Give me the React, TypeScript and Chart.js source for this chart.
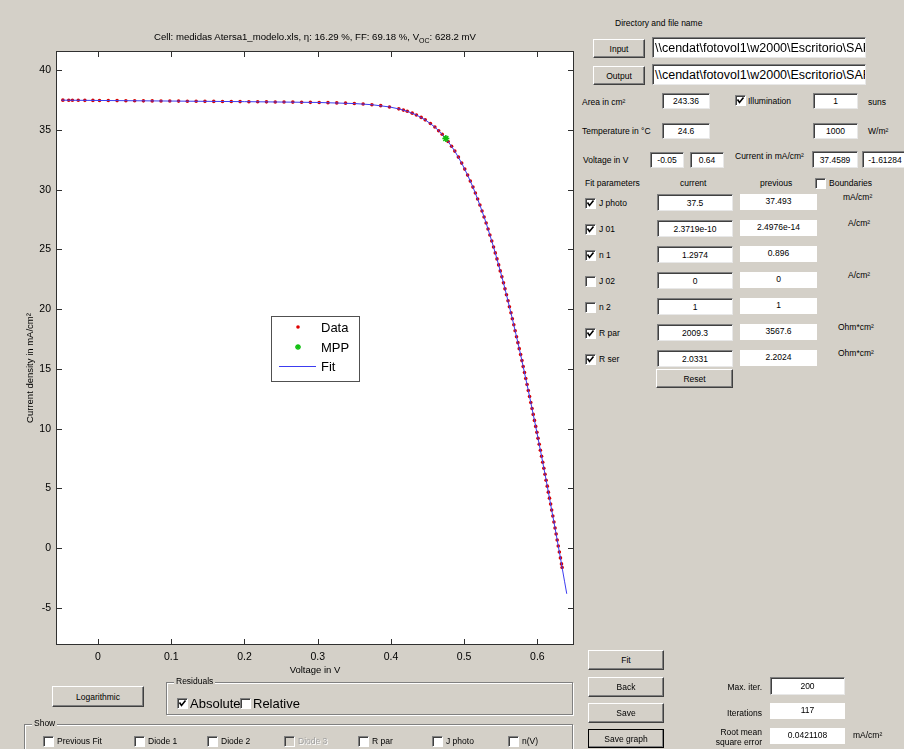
import React, { useEffect, useRef } from "react";
import { Chart, registerables } from "chart.js";
Chart.register(...registerables);

const F = "'Liberation Sans', Arial, sans-serif";
const BG = "#d4d0c8";

// ---- chart data ----
const dataV = [-0.048, -0.04, -0.035, -0.027, -0.018, -0.007, 0.002, 0.014, 0.026, 0.038, 0.05, 0.062, 0.074, 0.086, 0.098, 0.11, 0.122, 0.134, 0.146, 0.158, 0.17, 0.182, 0.194, 0.206, 0.218, 0.23, 0.242, 0.254, 0.266, 0.278, 0.29, 0.302, 0.314, 0.326, 0.338, 0.35, 0.362, 0.374, 0.386, 0.398,
  0.4107, 0.417, 0.4223, 0.4291, 0.4348, 0.4413, 0.4468, 0.4539, 0.46, 0.4652, 0.47, 0.4742, 0.4781, 0.4828, 0.4872, 0.4921, 0.4966, 0.5008, 0.5047, 0.5084, 0.512, 0.5153, 0.5184, 0.5215, 0.5244, 0.5272, 0.53, 0.5326, 0.5351, 0.5377, 0.5401, 0.5425, 0.5448, 0.5471, 0.5493, 0.5515, 0.5537, 0.5557, 0.5578, 0.5599, 0.5618, 0.5639, 0.5658, 0.5678, 0.5696, 0.5715, 0.5734, 0.5752, 0.5771, 0.5789, 0.5806, 0.5824, 0.5841, 0.5859, 0.5876, 0.5893, 0.591, 0.5927, 0.5943, 0.596, 0.5977, 0.5993, 0.6009, 0.6025, 0.6041, 0.6057, 0.6073, 0.6088, 0.6104, 0.6119, 0.6135, 0.615, 0.6165, 0.6181, 0.6195, 0.6211, 0.6226, 0.6241, 0.6256, 0.627, 0.6285, 0.63, 0.6315, 0.6329, 0.6338];
const dataJ = [37.486, 37.482, 37.479, 37.475, 37.471, 37.465, 37.461, 37.455, 37.449, 37.443, 37.437, 37.431, 37.425, 37.419, 37.413, 37.407, 37.401, 37.395, 37.389, 37.383, 37.377, 37.371, 37.365, 37.358, 37.352, 37.345, 37.338, 37.331, 37.323, 37.314, 37.304, 37.292, 37.277, 37.259, 37.235, 37.204, 37.162, 37.106, 37.028, 36.919,
  36.758, 36.655, 36.553, 36.399, 36.247, 36.044, 35.841, 35.538, 35.235, 34.933, 34.631, 34.329, 34.027, 33.626, 33.224, 32.722, 32.22, 31.718, 31.217, 30.716, 30.214, 29.713, 29.212, 28.711, 28.21, 27.709, 27.209, 26.708, 26.207, 25.706, 25.206, 24.705, 24.204, 23.704, 23.203, 22.702, 22.202, 21.701, 21.201, 20.7, 20.2, 19.699, 19.199, 18.698, 18.198, 17.697, 17.197, 16.697, 16.196, 15.696, 15.195, 14.695, 14.195, 13.694, 13.194, 12.694, 12.193, 11.693, 11.193, 10.692, 10.192, 9.692, 9.191, 8.691, 8.191, 7.691, 7.19, 6.69, 6.19, 5.69, 5.189, 4.689, 4.189, 3.689, 3.188, 2.688, 2.188, 1.688, 1.187, 0.687, 0.187, -0.313, -0.814, -1.314, -1.613];

const fitV = [-0.05, 0.1, 0.2, 0.25, 0.3, 0.35, 0.374, 0.398, 0.4107, 0.4223, 0.4348, 0.4468, 0.46, 0.47, 0.4781, 0.4872, 0.4966, 0.5047, 0.512, 0.5184, 0.5244, 0.53, 0.5351, 0.5401, 0.5448, 0.5493, 0.5537, 0.5578, 0.5618, 0.5658, 0.5696, 0.5734, 0.5771, 0.5806, 0.5841, 0.5876, 0.591, 0.5943, 0.5977, 0.6009, 0.6041, 0.6073, 0.6104, 0.6135, 0.6165, 0.6195, 0.6226, 0.6256, 0.6285, 0.6315, 0.6343, 0.6372, 0.6401];
const fitJ = [37.487, 37.412, 37.362, 37.33, 37.294, 37.204, 37.106, 36.919, 36.758, 36.553, 36.247, 35.841, 35.235, 34.631, 34.027, 33.224, 32.22, 31.217, 30.214, 29.212, 28.21, 27.209, 26.207, 25.206, 24.204, 23.203, 22.202, 21.201, 20.2, 19.199, 18.198, 17.197, 16.196, 15.195, 14.195, 13.194, 12.193, 11.193, 10.192, 9.191, 8.191, 7.19, 6.19, 5.189, 4.189, 3.188, 2.188, 1.187, 0.187, -0.814, -1.814, -2.815, -3.815];

const mppV = [0.475];
const mppJ = [34.27];

const xTickValues = [0, 0.1, 0.2, 0.3, 0.4, 0.5, 0.6];
const yTickValues = [-5, 0, 5, 10, 15, 20, 25, 30, 35, 40];
const legendLabels = ["Data", "MPP", "Fit"];

const xMin = -0.0574, xMax = 0.65, yMin = -8.1, yMax = 41.6;

const pts = (xs: number[], ys: number[]) => xs.map((x, i) => ({ x, y: ys[i] }));

const bgPlugin = {
  id: "plotBg",
  beforeDraw(chart: any) {
    const { ctx, chartArea: a } = chart;
    ctx.save();
    ctx.fillStyle = "#fff";
    ctx.fillRect(a.left, a.top, a.right - a.left, a.bottom - a.top);
    ctx.restore();
  },
};

const axesPlugin = {
  id: "matlabAxes",
  afterDraw(chart: any) {
    const { ctx, chartArea: a, scales } = chart;
    const x = scales.x, y = scales.y;
    ctx.save();
    ctx.strokeStyle = "#303030";
    ctx.lineWidth = 1;
    ctx.strokeRect(Math.round(a.left) + 0.5, Math.round(a.top) + 0.5, Math.round(a.right - a.left) - 1, Math.round(a.bottom - a.top) - 1);
    const L = 6;
    ctx.beginPath();
    xTickValues.forEach((v) => {
      const p = Math.round(x.getPixelForValue(v)) + 0.5;
      ctx.moveTo(p, a.bottom); ctx.lineTo(p, a.bottom - L);
      ctx.moveTo(p, a.top); ctx.lineTo(p, a.top + L);
    });
    yTickValues.forEach((v) => {
      const p = Math.round(y.getPixelForValue(v)) + 0.5;
      ctx.moveTo(a.left, p); ctx.lineTo(a.left + L, p);
      ctx.moveTo(a.right, p); ctx.lineTo(a.right - L, p);
    });
    ctx.stroke();

    // axis titles
    ctx.fillStyle = "#000";
    ctx.font = `9.5px ${F}`;
    ctx.textAlign = "center";
    ctx.textBaseline = "middle";
    ctx.fillText("Voltage in V", (a.left + a.right) / 2, 670);
    ctx.save();
    ctx.translate(30, 368);
    ctx.rotate(-Math.PI / 2);
    ctx.fillText("Current density in mA/cm²", 0, 0);
    ctx.restore();

    // legend
    const bx = 271, by = 316, bw = 88, bh = 65;
    ctx.fillStyle = "#fff";
    ctx.fillRect(bx, by, bw, bh);
    ctx.strokeStyle = "#505050";
    ctx.strokeRect(bx + 0.5, by + 0.5, bw, bh);
    const rows = [327, 347, 366];
    ctx.fillStyle = "#e00000";
    ctx.beginPath(); ctx.arc(298, rows[0], 1.8, 0, Math.PI * 2); ctx.fill();
    ctx.strokeStyle = "#10c010"; ctx.lineWidth = 1.3;
    ctx.beginPath();
    for (let k = 0; k < 4; k++) {
      const ang = (k * Math.PI) / 4;
      ctx.moveTo(298 - 3 * Math.cos(ang), rows[1] - 3 * Math.sin(ang));
      ctx.lineTo(298 + 3 * Math.cos(ang), rows[1] + 3 * Math.sin(ang));
    }
    ctx.stroke();
    ctx.strokeStyle = "#3c3cf0"; ctx.lineWidth = 1;
    ctx.beginPath(); ctx.moveTo(279, rows[2] + 0.5); ctx.lineTo(316, rows[2] + 0.5); ctx.stroke();
    ctx.fillStyle = "#000";
    ctx.font = `13px ${F}`;
    ctx.textAlign = "left";
    legendLabels.forEach((t, i) => ctx.fillText(t, 321, rows[i] + 1));
    ctx.restore();
  },
};

// ---------- UI helpers ----------
type P = { l: number; t: number; w?: number; h?: number; fs?: number; children?: any; style?: any };

const Txt = ({ l, t, fs = 8.5, children, style }: P) => (
  <div style={{ position: "absolute", left: l, top: t, fontSize: fs, fontFamily: F, lineHeight: 1, whiteSpace: "nowrap", color: "#000", ...style }}>{children}</div>
);

const Btn = ({ l, t, w, h, children, style }: P) => (
  <div style={{ position: "absolute", left: l, top: t, width: w, height: h, boxSizing: "border-box", background: BG, borderStyle: "solid", borderWidth: 1, borderColor: "#fff #404040 #404040 #fff", boxShadow: "inset -1px -1px 0 #808080", fontSize: 8.5, fontFamily: F, display: "flex", alignItems: "center", justifyContent: "center", ...style }}>{children}</div>
);

const Edit = ({ l, t, w, h, children, fs = 8.5, style }: P) => (
  <div style={{ position: "absolute", left: l, top: t, width: w, height: h, boxSizing: "border-box", background: "#fff", borderStyle: "solid", borderWidth: 1, borderColor: "#808080 #e8e8e8 #e8e8e8 #808080", boxShadow: "inset 1px 1px 0 #404040", fontSize: fs, fontFamily: F, display: "flex", alignItems: "center", justifyContent: "center", whiteSpace: "nowrap", overflow: "hidden", ...style }}>{children}</div>
);

const Flat = ({ l, t, w, h, children, fs = 8.5 }: P) => (
  <div style={{ position: "absolute", left: l, top: t, width: w, height: h, boxSizing: "border-box", background: "#fff", fontSize: fs, fontFamily: F, display: "flex", alignItems: "flex-start", paddingTop: 2, justifyContent: "center", whiteSpace: "nowrap" }}>{children}</div>
);

const Check = ({ l, t, on, disabled }: { l: number; t: number; on?: boolean; disabled?: boolean }) => (
  <div style={{ position: "absolute", left: l, top: t, width: 11, height: 11, boxSizing: "border-box", background: disabled ? BG : "#fff", borderStyle: "solid", borderWidth: 1, borderColor: "#808080 #fff #fff #808080", boxShadow: "inset 1px 1px 0 #404040" }}>
    {on ? (
      <svg width="9" height="9" style={{ position: "absolute", left: 0, top: 0 }}>
        <path d="M1.5 3.5 L3.5 6.5 L7.5 1.5" stroke="#000" strokeWidth="1.6" fill="none" />
      </svg>
    ) : null}
  </div>
);

const Group = ({ l, t, w, h, label }: { l: number; t: number; w: number; h: number; label: string }) => (
  <>
    <div style={{ position: "absolute", left: l, top: t, width: w, height: h, boxSizing: "border-box", border: "1px solid #808080", boxShadow: "1px 1px 0 #fff, inset 1px 1px 0 #fff" }} />
    <div style={{ position: "absolute", left: l + 8, top: t - 5, background: BG, padding: "0 2px", fontSize: 8.5, fontFamily: F, lineHeight: 1 }}>{label}</div>
  </>
);

const RTxt = ({ r, t, children }: { r: number; t: number; children: any }) => (
  <div style={{ position: "absolute", left: r - 80, top: t, width: 80, textAlign: "right", fontSize: 8.5, fontFamily: F, lineHeight: 1, whiteSpace: "nowrap" }}>{children}</div>
);

const paramRows = [
  { name: "J photo", on: true, cur: "37.5", prev: "37.493", unit: "mA/cm²", y: 203 },
  { name: "J 01", on: true, cur: "2.3719e-10", prev: "2.4976e-14", unit: "A/cm²", y: 229 },
  { name: "n 1", on: true, cur: "1.2974", prev: "0.896", unit: "", y: 255 },
  { name: "J 02", on: false, cur: "0", prev: "0", unit: "A/cm²", y: 281 },
  { name: "n 2", on: false, cur: "1", prev: "1", unit: "", y: 307 },
  { name: "R par", on: true, cur: "2009.3", prev: "3567.6", unit: "Ohm*cm²", y: 333 },
  { name: "R ser", on: true, cur: "2.0331", prev: "2.2024", unit: "Ohm*cm²", y: 359 },
];

const showItems = [
  { label: "Previous Fit", x: 43 },
  { label: "Diode 1", x: 134 },
  { label: "Diode 2", x: 207 },
  { label: "Diode 3", x: 284, disabled: true },
  { label: "R par", x: 358 },
  { label: "J photo", x: 432 },
  { label: "n(V)", x: 508 },
];

const path = "\\\\cendat\\fotovol1\\w2000\\Escritorio\\SARA\\";

export default function App() {
  const ref = useRef<HTMLCanvasElement | null>(null);
  useEffect(() => {
    if (!ref.current) return;
    const chart = new Chart(ref.current, {
      type: "scatter",
      data: {
        datasets: [
          { label: "MPP", data: pts(mppV, mppJ), pointStyle: "star", pointRadius: 3.5, borderColor: "#10c010", backgroundColor: "#10c010", borderWidth: 1.5, order: 0 } as any,
          { label: "Fit", data: pts(fitV, fitJ), showLine: true, borderColor: "#3c3cf0", borderWidth: 1, pointRadius: 0, order: 1 } as any,
          { label: "Data", data: pts(dataV, dataJ), pointRadius: 1.8, backgroundColor: "#d80000", borderWidth: 0, order: 2 } as any,
        ],
      },
      options: {
        animation: false,
        responsive: false,
        maintainAspectRatio: false,
        layout: { padding: { top: 51, right: 6, left: 0, bottom: 0 } },
        plugins: { legend: { display: false }, tooltip: { enabled: false }, title: { display: false } },
        scales: {
          x: {
            type: "linear", min: xMin, max: xMax,
            grid: { display: false, drawTicks: false },
            border: { display: false },
            afterBuildTicks: (s: any) => { s.ticks = xTickValues.map((v) => ({ value: v })); },
            afterFit: (s: any) => { s.height = 55; },
            ticks: { padding: 6, color: "#000", font: { size: 10.5, family: F }, callback: (v: any) => String(v), maxRotation: 0, autoSkip: false },
          },
          y: {
            type: "linear", min: yMin, max: yMax,
            grid: { display: false, drawTicks: false },
            border: { display: false },
            afterBuildTicks: (s: any) => { s.ticks = yTickValues.map((v) => ({ value: v })); },
            afterFit: (s: any) => { s.width = 56; },
            ticks: { padding: 5, color: "#000", font: { size: 10.5, family: F }, callback: (v: any) => String(v), autoSkip: false },
          },
        },
      } as any,
      plugins: [bgPlugin, axesPlugin],
    });
    return () => chart.destroy();
  }, []);

  return (
    <div style={{ position: "absolute", left: 0, top: 0, width: 904, height: 749, background: BG, overflow: "hidden", fontFamily: F }}>
      <canvas ref={ref} width={580} height={700} style={{ position: "absolute", left: 0, top: 0, width: 580, height: 700 }} />
      <div style={{ position: "absolute", left: 56, top: 32, width: 518, textAlign: "center", fontSize: 9.6, fontFamily: F, lineHeight: 1, whiteSpace: "nowrap" }}>
        Cell: medidas Atersa1_modelo.xls, η: 16.29 %, FF: 69.18 %, V<sub style={{ fontSize: 7 }}>OC</sub>: 628.2 mV
      </div>

      {/* Directory */}
      <Txt l={615} t={19}>Directory and file name</Txt>
      <Btn l={593} t={39} w={52} h={19}>Input</Btn>
      <Btn l={593} t={66} w={52} h={19}>Output</Btn>
      <Edit l={652} t={37} w={214} h={21} fs={12.5} style={{ justifyContent: "flex-start", paddingLeft: 2 }}>{path}</Edit>
      <Edit l={652} t={64} w={214} h={21} fs={12.5} style={{ justifyContent: "flex-start", paddingLeft: 2 }}>{path}</Edit>

      {/* Area / illumination */}
      <Txt l={582} t={98}>Area in cm²</Txt>
      <Edit l={662} t={93} w={48} h={16}>243.36</Edit>
      <Check l={735} t={95} on />
      <Txt l={748} t={97}>Illumination</Txt>
      <Edit l={813} t={93} w={45} h={16}>1</Edit>
      <Txt l={868} t={98}>suns</Txt>

      <Txt l={582} t={127}>Temperature in °C</Txt>
      <Edit l={662} t={123} w={48} h={16}>24.6</Edit>
      <Edit l={813} t={123} w={45} h={16}>1000</Edit>
      <Txt l={868} t={127}>W/m²</Txt>

      <Txt l={583} t={156}>Voltage in V</Txt>
      <Edit l={650} t={152} w={34} h={16}>-0.05</Edit>
      <Edit l={690} t={152} w={34} h={16}>0.64</Edit>
      <Txt l={735} t={152}>Current in mA/cm²</Txt>
      <Edit l={812} t={151} w={46} h={17}>37.4589</Edit>
      <Edit l={862} t={151} w={46} h={17}>-1.61284</Edit>

      <Txt l={585} t={179}>Fit parameters</Txt>
      <Txt l={680} t={179}>current</Txt>
      <Txt l={760} t={179}>previous</Txt>
      <Check l={815} t={178} />
      <Txt l={829} t={179}>Boundaries</Txt>

      {paramRows.map((r) => (
        <React.Fragment key={r.name}>
          <Check l={585} t={r.y - 5} on={r.on} />
          <Txt l={599} t={r.y - 4}>{r.name}</Txt>
          <Edit l={657} t={r.y - 9} w={76} h={17}>{r.cur}</Edit>
          <Flat l={740} t={r.y - 9} w={77} h={16}>{r.prev}</Flat>
          {r.unit ? <Txt l={r.unit === "Ohm*cm²" ? 838 : r.unit === "A/cm²" ? 848 : 843} t={r.y - 10}>{r.unit}</Txt> : null}
        </React.Fragment>
      ))}
      <Btn l={656} t={369} w={77} h={19}>Reset</Btn>

      {/* bottom left */}
      <Btn l={52} t={686} w={92} h={21}>Logarithmic</Btn>
      <Group l={166} t={682} w={407} h={33} label="Residuals" />
      <Check l={177} t={698} on />
      <Txt l={190} t={697} fs={13}>Absolute</Txt>
      <Check l={240} t={698} />
      <Txt l={253} t={697} fs={13}>Relative</Txt>

      <Group l={24} t={724} w={549} h={40} label="Show" />
      {showItems.map((s) => (
        <React.Fragment key={s.label}>
          <Check l={s.x} t={736} disabled={s.disabled} />
          <Txt l={s.x + 14} t={737} style={s.disabled ? { color: "#a0a0a0", textShadow: "1px 1px 0 #fff" } : {}}>{s.label}</Txt>
        </React.Fragment>
      ))}

      {/* bottom right */}
      <Btn l={588} t={650} w={76} h={20}>Fit</Btn>
      <Btn l={588} t={677} w={76} h={20}>Back</Btn>
      <Btn l={588} t={703} w={76} h={20}>Save</Btn>
      <Btn l={588} t={729} w={76} h={19} style={{ outline: "1px solid #000", outlineOffset: -1 }}>Save graph</Btn>

      <RTxt r={762} t={683}>Max. iter.</RTxt>
      <Edit l={770} t={677} w={75} h={18}>200</Edit>
      <RTxt r={762} t={709}>Iterations</RTxt>
      <Flat l={770} t={703} w={75} h={16}>117</Flat>
      <div style={{ position: "absolute", left: 700, top: 727, width: 62, textAlign: "right", fontSize: 8.5, fontFamily: F, lineHeight: "10px" }}>Root mean<br />square error</div>
      <Flat l={770} t={728} w={75} h={16}>0.0421108</Flat>
      <Txt l={853} t={731}>mA/cm²</Txt>
    </div>
  );
}
